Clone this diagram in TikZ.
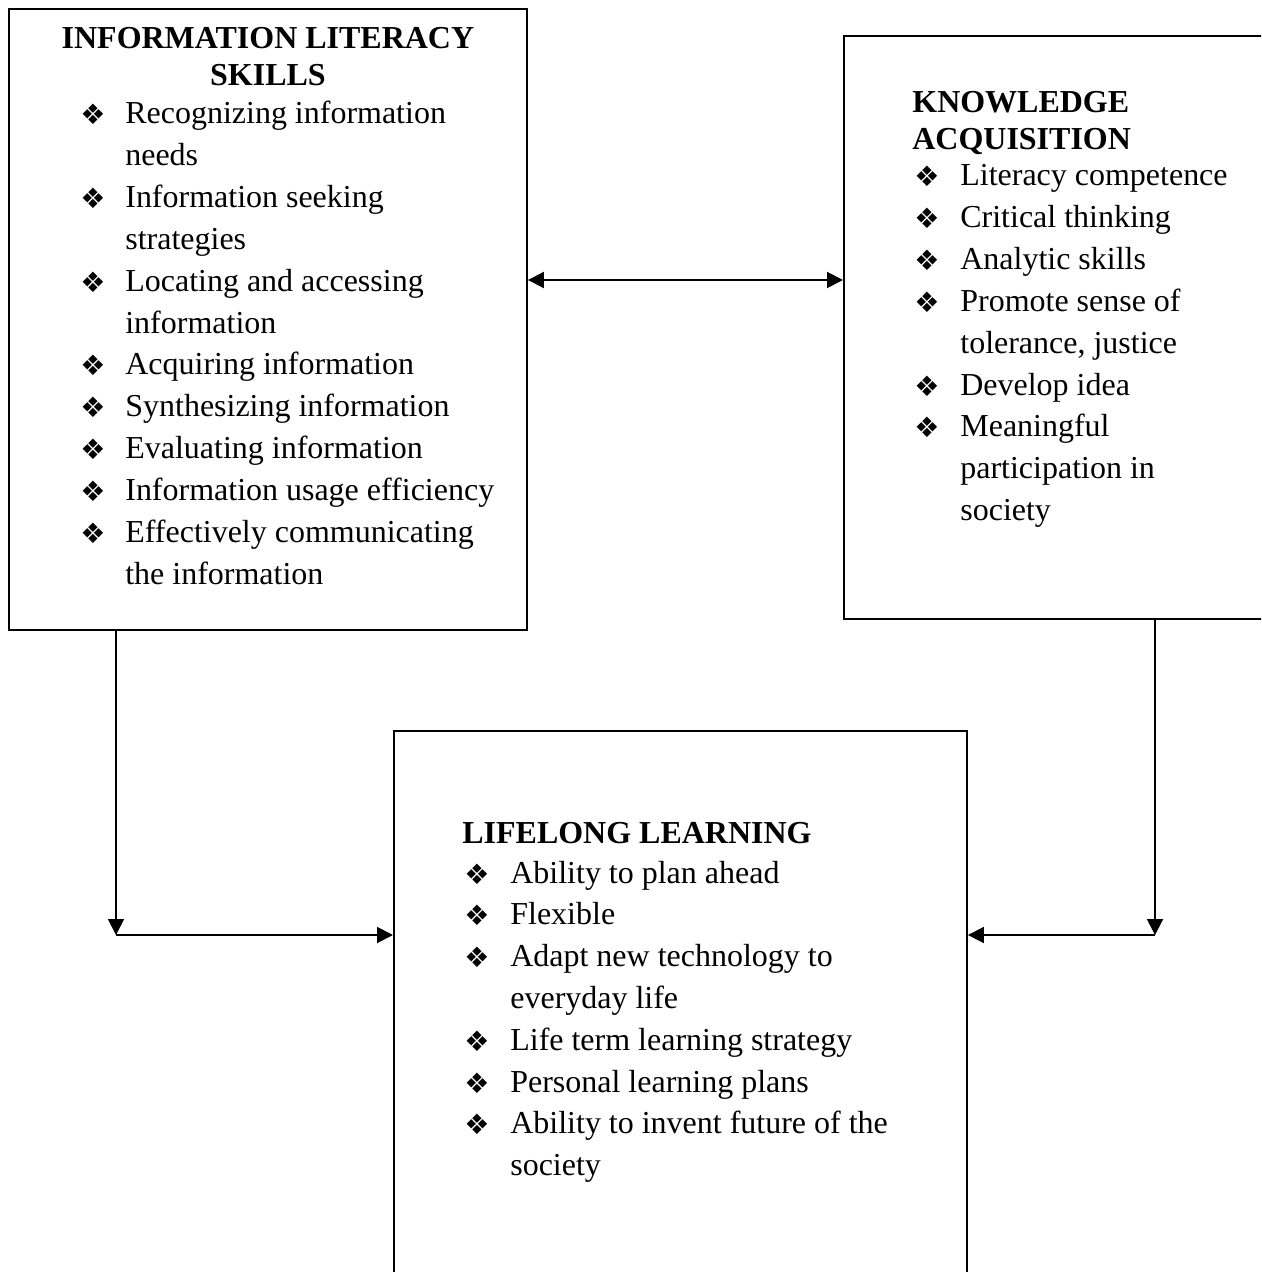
\documentclass[tikz,border=0pt]{standalone}
\usepackage{fontspec}
\setmainfont{Liberation Serif}
\newfontfamily\dingfont{DejaVu Sans}
\usepackage{tikz}
\usetikzlibrary{arrows.meta, positioning}
\tikzstyle{box}=[rectangle, draw=black, line width=1.1pt, inner sep=0pt, anchor=north west]
\tikzstyle{head}=[font=\fontsize{18.2}{20.6}\selectfont\bfseries, inner sep=0pt]
\tikzstyle{list}=[font=\fontsize{18.2}{23.8}\selectfont, inner sep=0pt, anchor=base west]
\tikzstyle{link}=[line width=1.1pt]
\newcommand{\bul}{{\dingfont\fontsize{16}{16}\selectfont\raisebox{-0.02cm}{❖}}}

\begin{document}
\begin{tikzpicture}[>={Triangle[length=0.32cm, width=0.32cm]}]
    \useasboundingbox (0,0) rectangle (25.22,-25.44);
    \clip (0,0) rectangle (25.22,-25.44);

    % Boxes:
    \node[box, minimum width=10.36cm, minimum height=12.42cm] (ils) at (0.16,-0.16) {};
    \node[box, minimum width=9cm, minimum height=11.66cm] (ka) at (16.86,-0.70) {};
    \node[box, minimum width=11.46cm, minimum height=12cm] (lll) at (7.86,-14.60) {};

    % Information literacy skills:
    \node[head, anchor=base] (ilsh) at ([yshift=-0.82cm]ils.north) {\begin{tabular}[t]{@{}c@{}}INFORMATION LITERACY\\SKILLS\end{tabular}};
    \node[list] (ilsl) at ([xshift=1.44cm, yshift=-2.32cm]ils.north west) {\begin{tabular}[t]{@{}p{0.9cm}@{}l@{}}
        \bul & Recognizing information\\
             & needs\\
        \bul & Information seeking\\
             & strategies\\
        \bul & Locating and accessing\\
             & information\\
        \bul & Acquiring information\\
        \bul & Synthesizing information\\
        \bul & Evaluating information\\
        \bul & Information usage efficiency\\
        \bul & Effectively communicating\\
             & the information
    \end{tabular}};

    % Knowledge acquisition:
    \node[head, anchor=base west] (kah) at ([xshift=1.38cm, yshift=-1.56cm]ka.north west) {\begin{tabular}[t]{@{}l@{}}KNOWLEDGE\\ACQUISITION\end{tabular}};
    \node[list] (kal) at ([xshift=1.42cm, yshift=-3.02cm]ka.north west) {\begin{tabular}[t]{@{}p{0.92cm}@{}l@{}}
        \bul & Literacy competence\\
        \bul & Critical thinking\\
        \bul & Analytic skills\\
        \bul & Promote sense of\\
             & tolerance, justice\\
        \bul & Develop idea\\
        \bul & Meaningful\\
             & participation in\\
             & society
    \end{tabular}};

    % Lifelong learning:
    \node[head, anchor=base west] (lllh) at ([xshift=1.38cm, yshift=-2.26cm]lll.north west) {LIFELONG LEARNING};
    \node[list] (llll) at ([xshift=1.42cm, yshift=-3.06cm]lll.north west) {\begin{tabular}[t]{@{}p{0.92cm}@{}l@{}}
        \bul & Ability to plan ahead\\
        \bul & Flexible\\
        \bul & Adapt new technology to\\
             & everyday life\\
        \bul & Life term learning strategy\\
        \bul & Personal learning plans\\
        \bul & Ability to invent future of the\\
             & society
    \end{tabular}};

    % Links:
    \coordinate (dbl) at (0,-5.6);
    \coordinate (lc) at (2.32,-18.7);
    \coordinate (rc) at (23.1,-18.7);
    \draw[link, <->] (ils.east |- dbl) -- (ka.west |- dbl);
    \draw[link, ->] (ils.south -| lc) -- (lc);
    \draw[link, ->] (lc) -- (lll.west |- lc);
    \draw[link, ->] (ka.south -| rc) -- (rc);
    \draw[link, ->] (rc) -- (lll.east |- rc);
\end{tikzpicture}
\end{document}
